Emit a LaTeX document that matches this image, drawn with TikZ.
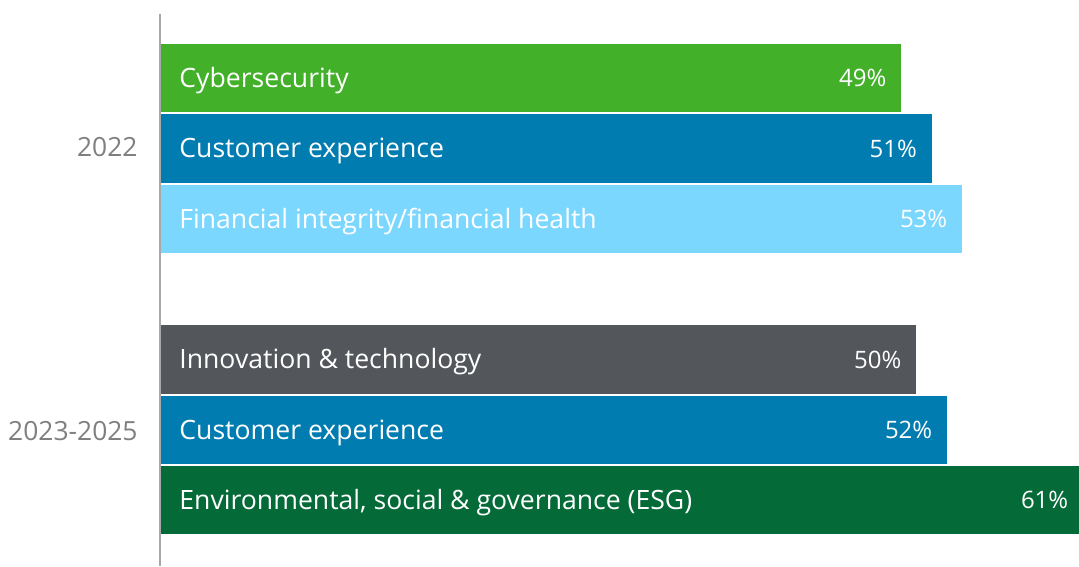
\documentclass[tikz,border=0pt]{standalone}
\usepackage{fontspec}
\setmainfont{Open Sans}
\usetikzlibrary{calc}
\definecolor{cgreen}{HTML}{43B02A}
\definecolor{cblue}{HTML}{007CB0}
\definecolor{clight}{HTML}{7CD7FF}
\definecolor{cgray}{HTML}{53565A}
\definecolor{cdark}{HTML}{046A38}
\definecolor{caxis}{HTML}{A7A8AA}
\definecolor{cyear}{HTML}{7F7F7F}
\tikzset{
  bar/.style={draw=none, inner sep=0pt, minimum height=68.5pt, anchor=north west},
  lbl/.style={text=white, inner sep=0pt, anchor=base west, font=\fontsize{26.6}{30}\selectfont},
  pct/.style={text=white, inner sep=0pt, anchor=base east, font=\fontsize{24}{28}\selectfont},
  yr/.style={text=cyear, inner sep=0pt, anchor=base east, font=\fontsize{26.4}{30}\selectfont},
}
\begin{document}
\begin{tikzpicture}[x=1pt,y=-1pt]
\useasboundingbox (0,0) rectangle (1079,566);
\begin{scope}
\clip (0,0) rectangle (1079,566);
\coordinate (axtop) at (159.7,14);
\coordinate (axbot) at (159.7,566);
\draw[caxis, line width=2pt] (axtop) -- (axbot);
\node[bar, fill=cgreen, minimum width=740.4pt] (b1) at (160.7,43.5) {};
\node[bar, fill=cblue,  minimum width=771.0pt] (b2) at (160.7,114.0) {};
\node[bar, fill=clight, minimum width=801.3pt] (b3) at (160.7,184.3) {};
\node[bar, fill=cgray,  minimum width=755.5pt] (b4) at (160.7,325.0) {};
\node[bar, fill=cblue,  minimum width=786.3pt] (b5) at (160.7,395.3) {};
\node[bar, fill=cdark,  minimum width=922.3pt] (b6) at (160.7,465.7) {};
\foreach \b/\t/\p in {b1/Cybersecurity/49, b2/Customer experience/51, b3/Financial integrity\slash financial health/53, b4/Innovation \& technology/50, b5/Customer experience/52, b6/{Environmental, social \& governance (ESG)}/61}{
  \node[lbl] (\b t) at ($(\b.west)+(18.5,9.4)$) {\t};
  \node[pct] (\b p) at ($(\b.east)+(-15,8.6)$) {\p\%};
}
\end{scope}
\node[yr] (y1) at ($(b2.west)+(-23,8.4)$) {2022};
\node[yr] (y2) at ($(b5.west)+(-23,11)$) {2023-2025};
\end{tikzpicture}
\end{document}
